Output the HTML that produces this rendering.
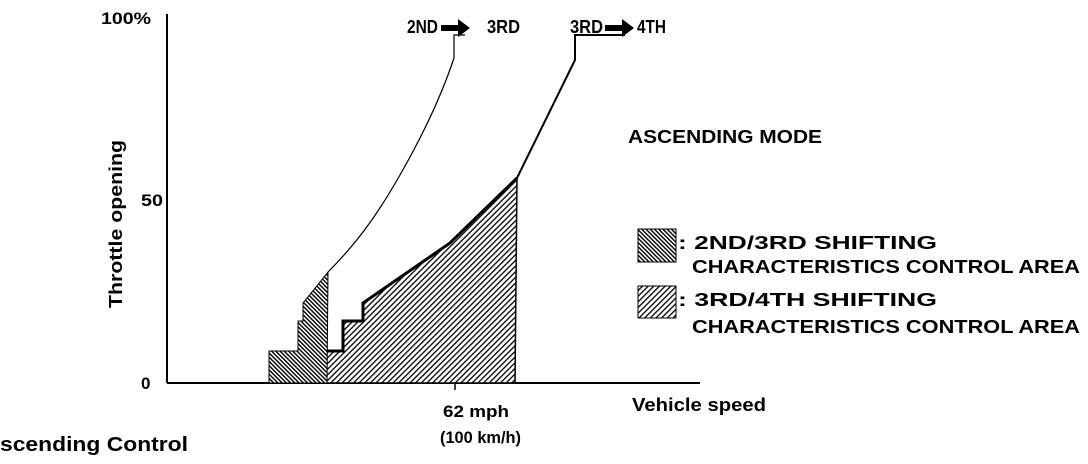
<!DOCTYPE html>
<html><head><meta charset="utf-8"><style>
html,body{margin:0;padding:0;background:#fff;}
svg{display:block;}
text{font-family:"Liberation Sans",Arial,sans-serif;font-weight:bold;fill:#000;}
</style></head><body>
<svg width="1088" height="464" viewBox="0 0 1088 464">
<defs>
<pattern id="pA" width="3" height="3" patternUnits="userSpaceOnUse" patternTransform="rotate(-45)">
<rect width="3" height="3" fill="#fff"/><rect width="1.4" height="3" fill="#000"/>
</pattern>
<pattern id="pB" width="4" height="4" patternUnits="userSpaceOnUse" patternTransform="rotate(45)">
<rect width="4" height="4" fill="#fff"/><rect width="1.3" height="4" fill="#000"/>
</pattern>
</defs>
<line x1="167" y1="14" x2="167" y2="383" stroke="#000" stroke-width="2"/>
<line x1="167" y1="383" x2="700" y2="383" stroke="#000" stroke-width="2"/>
<line x1="455" y1="383" x2="455" y2="390" stroke="#000" stroke-width="1.5"/>
<text x="101" y="24" font-size="17" textLength="50" lengthAdjust="spacingAndGlyphs">100%</text>
<text x="141" y="206" font-size="17" textLength="22" lengthAdjust="spacingAndGlyphs">50</text>
<text x="141" y="389" font-size="17">0</text>
<text transform="translate(122,224) rotate(-90)" font-size="18" text-anchor="middle" textLength="168" lengthAdjust="spacingAndGlyphs">Throttle opening</text>
<polygon points="300,383 300,371 313,371 313,351 343,351 343,321 363,321 363,303 450,243 517,178 515,383" fill="url(#pB)" stroke="#000" stroke-width="1.5"/>
<polyline points="300,371 313,371 313,351 343,351 343,321 363,321 363,303 450,243 517,178" fill="none" stroke="#000" stroke-width="3"/>
<polygon points="269,383 269,351 298,351 298,321 303,321 303,303 328,272 327,383" fill="url(#pA)" stroke="#000" stroke-width="1"/>
<path d="M328,272 C360,240 380,210 400,175 C420,140 440,100 454,58 L454,35 L465,35" fill="none" stroke="#000" stroke-width="1.2"/>
<polyline points="517,178 575,60 575,35 625,35" fill="none" stroke="#000" stroke-width="2"/>
<text x="407" y="33" font-size="18" textLength="31" lengthAdjust="spacingAndGlyphs">2ND</text>
<polygon points="441,25 458,25 458,19 470,28 458,37 458,31 441,31" fill="#000"/>
<text x="487" y="33" font-size="18" textLength="33" lengthAdjust="spacingAndGlyphs">3RD</text>
<text x="570" y="33" font-size="18" textLength="33" lengthAdjust="spacingAndGlyphs">3RD</text>
<polygon points="605,25 622,25 622,19 634,28 622,37 622,31 605,31" fill="#000"/>
<text x="637" y="33" font-size="18" textLength="29" lengthAdjust="spacingAndGlyphs">4TH</text>
<text x="628" y="143" font-size="18" textLength="194" lengthAdjust="spacingAndGlyphs">ASCENDING MODE</text>
<rect x="638" y="229" width="38" height="33" fill="url(#pA)" stroke="#000" stroke-width="1"/>
<rect x="638" y="286" width="38" height="32" fill="url(#pB)" stroke="#000" stroke-width="1"/>
<text x="678" y="249" font-size="18" textLength="259" lengthAdjust="spacingAndGlyphs">: 2ND/3RD SHIFTING</text>
<text x="692" y="273" font-size="18" textLength="388" lengthAdjust="spacingAndGlyphs">CHARACTERISTICS CONTROL AREA</text>
<text x="678" y="306" font-size="18" textLength="259" lengthAdjust="spacingAndGlyphs">: 3RD/4TH SHIFTING</text>
<text x="692" y="333" font-size="18" textLength="388" lengthAdjust="spacingAndGlyphs">CHARACTERISTICS CONTROL AREA</text>
<text x="443" y="417" font-size="17" textLength="66" lengthAdjust="spacingAndGlyphs">62 mph</text>
<text x="440" y="443" font-size="17" textLength="81" lengthAdjust="spacingAndGlyphs">(100 km/h)</text>
<text x="632" y="411" font-size="18" textLength="134" lengthAdjust="spacingAndGlyphs">Vehicle speed</text>
<text x="0" y="451" font-size="20" textLength="188" lengthAdjust="spacingAndGlyphs">scending Control</text>
</svg>
</body></html>
